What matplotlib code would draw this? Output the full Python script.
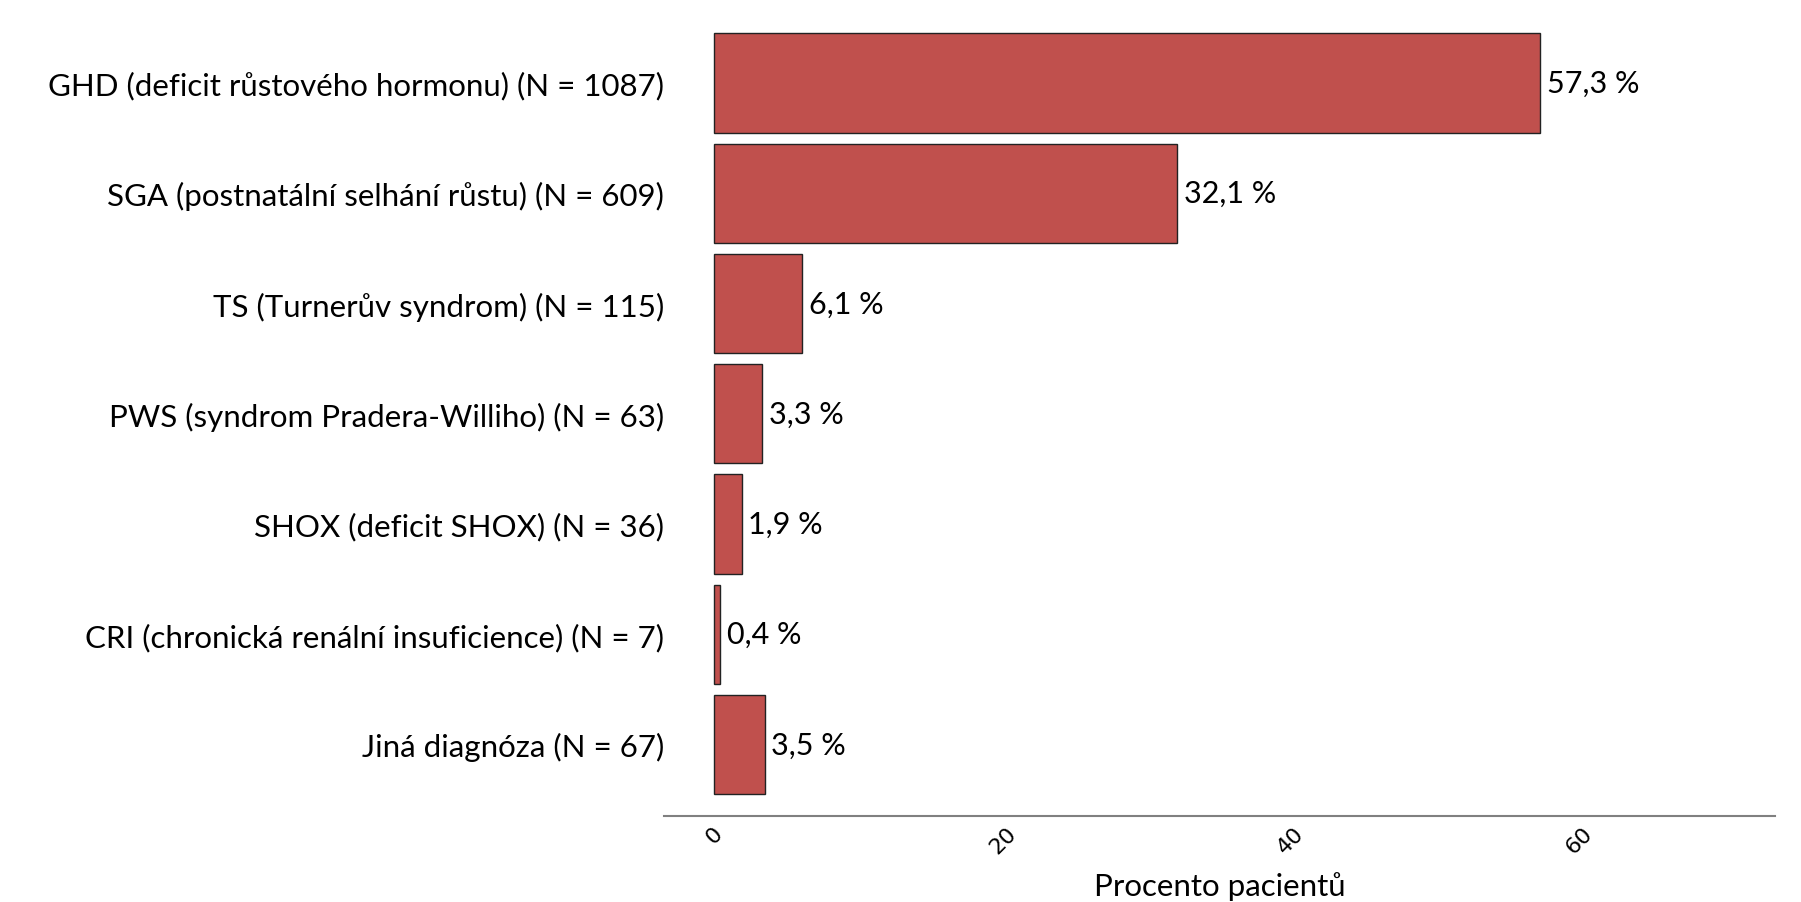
import numpy as np
import matplotlib
matplotlib.use("Agg")
import matplotlib.pyplot as plt

categories = [
    "GHD (deficit růstového hormonu) (N = 1087)",
    "SGA (postnatální selhání růstu) (N = 609)",
    "TS (Turnerův syndrom) (N = 115)",
    "PWS (syndrom Pradera-Williho) (N = 63)",
    "SHOX (deficit SHOX) (N = 36)",
    "CRI (chronická renální insuficience) (N = 7)",
    "Jiná diagnóza (N = 67)",
]
percent = [57.3, 32.1, 6.1, 3.3, 1.9, 0.4, 3.5]
xticks = [0, 20, 40, 60]

fig = plt.figure(figsize=(18.01, 9.03), dpi=100)
ax = fig.add_axes([0.3687, 0.0952, 0.6169, 0.885])

y = np.arange(len(categories))
ax.barh(y, percent, height=0.9, color="#C0504D", edgecolor="#222222", linewidth=1.0)
for yi, v in zip(y, percent):
    ax.text(v + 0.45, yi, f"{v:.1f} %".replace(".", ","), va="center", ha="left",
            fontsize=22, family="Lato")

ax.set_yticks(y)
ax.set_yticklabels(categories, fontsize=22.5, family="Lato")
ax.set_ylim(6.65, -0.6)
ax.set_xlim(-3.5, 73.6)
ax.set_xticks(xticks)
ax.set_xticklabels([str(t) for t in xticks], rotation=45, ha="center", fontsize=16)
ax.tick_params(axis="both", length=0)
ax.tick_params(axis="y", pad=0)
ax.tick_params(axis="x", pad=5)
for s in ["top", "right", "left"]:
    ax.spines[s].set_visible(False)
ax.spines["bottom"].set_color("#808080")
ax.spines["bottom"].set_linewidth(1.5)
ax.set_xlabel("Procento pacientů", fontsize=22.5, family="Lato", labelpad=10)

fig.savefig("out.png", dpi=100)
